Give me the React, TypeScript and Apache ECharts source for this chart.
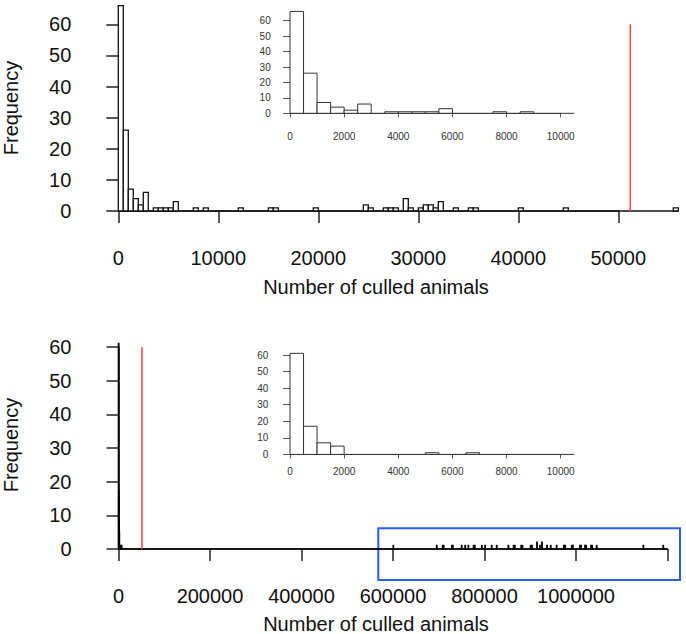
import React, { useEffect, useRef } from "react";
import * as echarts from "echarts";

// ---- data ----
const BIN_WIDTH = 500;
const OBSERVED = 51200;
const REF_LINE_TOP = 60;

// top panel: simulated culled animals (bins of 500)
const topStarts = [0, 500, 1000, 1500, 2000, 2500, 3500, 4000, 4500, 5000, 5500, 7500, 8500, 12000, 15000, 15500, 19500, 24500, 25000, 26500, 27000, 27500, 28500, 29000, 30000, 30500, 31000, 31500, 32000, 33500, 35000, 35500, 40000, 44500, 55500];
const topCounts = [66, 26, 7, 4, 2, 6, 1, 1, 1, 1, 3, 1, 1, 1, 1, 1, 1, 2, 1, 1, 1, 1, 4, 1, 1, 2, 2, 1, 3, 1, 1, 1, 1, 1, 1];
const TOP_RANGE_END = 56000;

// bottom panel (bins of 500)
const bottomStarts = [0, 500, 1000, 1500, 5000, 6500, 600500, 695500, 708500, 710500, 728500, 730500, 750000, 757500, 764500, 776000, 778500, 794000, 801000, 815500, 826500, 852000, 863500, 866000, 880000, 882500, 900500, 903500, 914500, 921000, 925500, 936500, 944500, 957500, 973500, 976000, 990500, 993000, 1008500, 1011000, 1019500, 1022000, 1032500, 1035000, 1045000, 1147000, 1190500];
const bottomCounts = [61, 17, 7, 5, 1, 1, 1, 1, 1, 1, 1, 1, 1, 1, 1, 1, 1, 1, 1, 1, 1, 1, 1, 1, 1, 1, 1, 1, 2, 1, 2, 1, 1, 1, 1, 1, 1, 1, 1, 1, 1, 1, 1, 1, 1, 1, 1];
const BOTTOM_RANGE_END = 1200000;

const INSET_RANGE_END = 10500;

const topXTicks = [0, 10000, 20000, 30000, 40000, 50000];
const bottomXTicks = [0, 200000, 400000, 600000, 800000, 1000000, 1200000];
const bottomXLabels = ["0", "200000", "400000", "600000", "800000", "1000000", ""];
const insetXTicks = [0, 2000, 4000, 6000, 8000, 10000];
const freqTicks = [0, 10, 20, 30, 40, 50, 60];

const Y_TITLE = "Frequency";
const X_TITLE = "Number of culled animals";

const FONT = "'Liberation Sans', Arial, Helvetica, sans-serif";

function bins(starts: number[], counts: number[], limit: number) {
  const out: number[][] = [];
  starts.forEach((s, i) => {
    if (s < limit) out.push([s, s + BIN_WIDTH, counts[i]]);
  });
  return out;
}

function histSeries(idx: number, data: number[][], stroke: string, lw: number) {
  return {
    type: "custom",
    xAxisIndex: idx,
    yAxisIndex: idx,
    clip: false,
    silent: true,
    encode: { x: [0, 1], y: 2 },
    data,
    renderItem: (params: any, api: any) => {
      const p0 = api.coord([api.value(0), 0]);
      const p1 = api.coord([api.value(1), api.value(2)]);
      return {
        type: "rect",
        shape: { x: p0[0], y: p1[1], width: Math.max(p1[0] - p0[0], 0), height: p0[1] - p1[1] },
        style: { fill: "#ffffff", stroke, lineWidth: lw },
      };
    },
  };
}

// a straight segment [x0, y0, x1, y1] in data units
function segSeries(idx: number, seg: number[], color: string, width: number) {
  return {
    type: "custom",
    xAxisIndex: idx,
    yAxisIndex: idx,
    clip: false,
    silent: true,
    encode: { x: [0, 2], y: [1, 3] },
    data: [seg],
    renderItem: (params: any, api: any) => {
      const a = api.coord([api.value(0), api.value(1)]);
      const b = api.coord([api.value(2), api.value(3)]);
      return {
        type: "line",
        shape: { x1: a[0], y1: a[1], x2: b[0], y2: b[1] },
        style: { stroke: color, lineWidth: width },
      };
    },
  };
}

function xAxis(idx: number, ticks: number[], opts: any) {
  const interval = ticks[1] - ticks[0];
  return {
    gridIndex: idx,
    type: "value",
    min: ticks[0],
    max: ticks[ticks.length - 1],
    interval,
    offset: opts.offset,
    axisLine: { show: true, lineStyle: { color: opts.lineColor, width: opts.lw } },
    axisTick: { show: true, length: opts.tick, lineStyle: { color: opts.lineColor, width: opts.lw } },
    axisLabel: {
      show: true,
      fontSize: opts.fontSize,
      color: opts.labelColor,
      margin: opts.margin,
      fontFamily: FONT,
      formatter: opts.formatter || ((v: number) => String(v)),
      showMinLabel: true,
      showMaxLabel: true,
    },
    splitLine: { show: false },
  };
}

function yAxis(idx: number, ticks: number[], opts: any) {
  return {
    gridIndex: idx,
    type: "value",
    position: "left",
    min: ticks[0],
    max: ticks[ticks.length - 1],
    interval: ticks[1] - ticks[0],
    offset: opts.offset,
    axisLine: { show: true, lineStyle: { color: opts.lineColor, width: opts.lw } },
    axisTick: { show: true, length: opts.tick, lineStyle: { color: opts.lineColor, width: opts.lw } },
    axisLabel: { show: true, fontSize: opts.fontSize, color: opts.labelColor, margin: opts.margin, fontFamily: FONT },
    splitLine: { show: false },
  };
}

export default function App() {
  const ref = useRef<HTMLDivElement>(null);
  useEffect(() => {
    if (!ref.current) return;
    const chart = echarts.init(ref.current, undefined, { renderer: "svg" });
    const mainX = { lineColor: "#222", lw: 1.5, tick: 12, fontSize: 20, labelColor: "#111", margin: 28 };
    const mainY = { lineColor: "#222", lw: 1.5, tick: 12, fontSize: 20, labelColor: "#111", margin: 26, offset: 21 };
    const insetX = { lineColor: "#555", lw: 1, tick: 4, fontSize: 10, labelColor: "#333" };
    const insetY = { lineColor: "#555", lw: 1, tick: 7, fontSize: 10, labelColor: "#333" };

    const option: any = {
      animation: false,
      textStyle: { fontFamily: FONT },
      grid: [
        { left: 118.3, top: 24.3, width: 500, height: 186.7, outerBoundsMode: "none" },
        { left: 290, top: 20.7, width: 270.7, height: 92.6, outerBoundsMode: "none" },
        { left: 290, top: 355, width: 270.7, height: 99.4, outerBoundsMode: "none" },
        { left: 118.5, top: 347, width: 549, height: 202, outerBoundsMode: "none" },
      ],
      xAxis: [
        xAxis(0, topXTicks, { ...mainX, offset: 9 }),
        xAxis(1, insetXTicks, { ...insetX, offset: 3.4, margin: 15 }),
        xAxis(2, insetXTicks, { ...insetX, offset: 4.6, margin: 7 }),
        xAxis(3, bottomXTicks, {
          ...mainX,
          offset: 8.7,
          formatter: (v: number) => {
            const i = bottomXTicks.indexOf(v);
            return i >= 0 ? bottomXLabels[i] : "";
          },
        }),
      ],
      yAxis: [
        yAxis(0, freqTicks, mainY),
        yAxis(1, freqTicks, { ...insetY, offset: 8.3, margin: 11 }),
        yAxis(2, freqTicks, { ...insetY, offset: 6.7, margin: 15 }),
        yAxis(3, freqTicks, mainY),
      ],
      series: [
        segSeries(0, [0, 0, TOP_RANGE_END, 0], "#111", 1.3),
        histSeries(0, bins(topStarts, topCounts, TOP_RANGE_END), "#111", 1.3),
        segSeries(0, [OBSERVED, 0, OBSERVED, REF_LINE_TOP], "#ff4040", 1.5),

        segSeries(1, [0, 0, INSET_RANGE_END, 0], "#333", 1),
        histSeries(1, bins(topStarts, topCounts, INSET_RANGE_END), "#333", 1),

        segSeries(2, [0, 0, INSET_RANGE_END, 0], "#333", 1),
        histSeries(2, bins(bottomStarts, bottomCounts, INSET_RANGE_END), "#333", 1),

        segSeries(3, [0, 0, BOTTOM_RANGE_END, 0], "#000", 1.5),
        histSeries(3, bins(bottomStarts, bottomCounts, BOTTOM_RANGE_END), "#000", 1.6),
        segSeries(3, [OBSERVED, 0, OBSERVED, REF_LINE_TOP], "#ff4040", 1.5),
      ],
      graphic: [
        {
          type: "text", x: 11, y: 108, rotation: Math.PI / 2,
          style: { text: Y_TITLE, fontSize: 20, fontFamily: FONT, fill: "#111", align: "center", verticalAlign: "middle", textAlign: "center", textVerticalAlign: "middle" },
        },
        {
          type: "text", x: 11, y: 445, rotation: Math.PI / 2,
          style: { text: Y_TITLE, fontSize: 20, fontFamily: FONT, fill: "#111", align: "center", verticalAlign: "middle", textAlign: "center", textVerticalAlign: "middle" },
        },
        {
          type: "text", x: 376, y: 287,
          style: { text: X_TITLE, fontSize: 20, fontFamily: FONT, fill: "#111", align: "center", verticalAlign: "middle", textAlign: "center", textVerticalAlign: "middle" },
        },
        {
          type: "text", x: 376, y: 624,
          style: { text: X_TITLE, fontSize: 20, fontFamily: FONT, fill: "#111", align: "center", verticalAlign: "middle", textAlign: "center", textVerticalAlign: "middle" },
        },
        {
          type: "rect",
          shape: { x: 378.3, y: 528.3, width: 301.7, height: 51.7 },
          style: { fill: "none", stroke: "#2a5cf0", lineWidth: 2 },
        },
      ],
    };
    chart.setOption(option);
    return () => chart.dispose();
  }, []);
  return <div ref={ref} style={{ position: "fixed", left: 0, top: 0, width: 686, height: 634, background: "#fff" }} />;
}
